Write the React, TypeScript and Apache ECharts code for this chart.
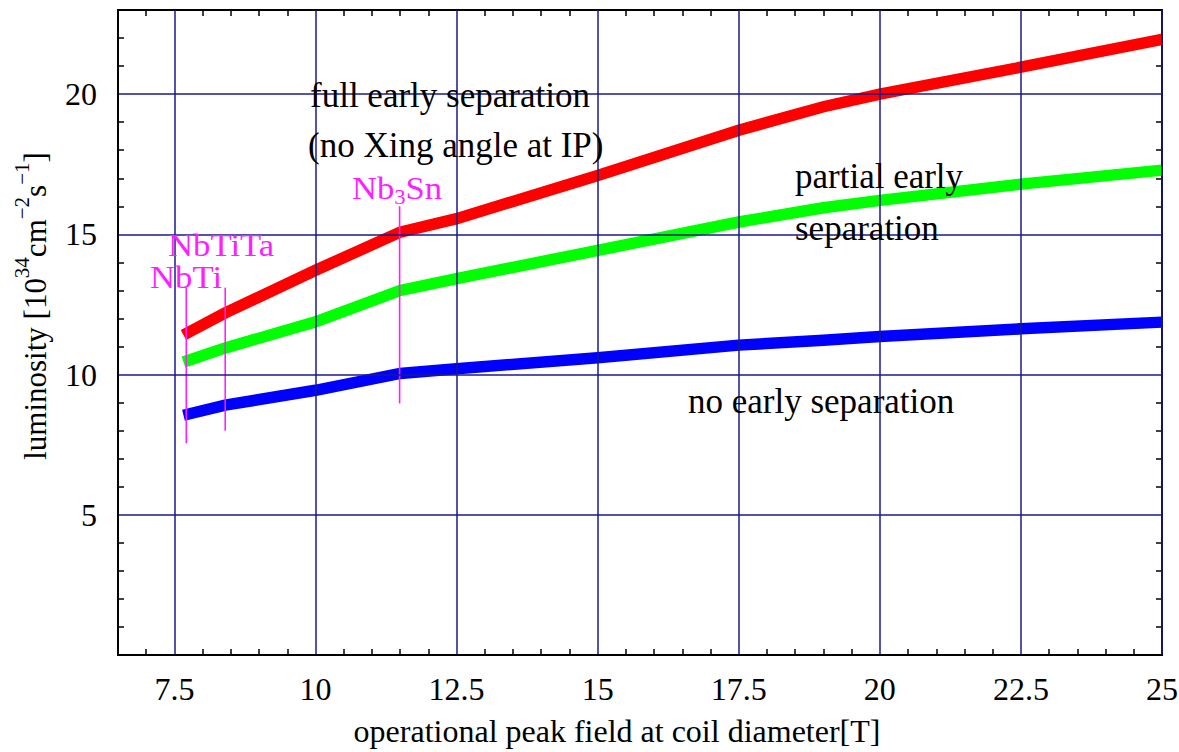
import React, { useEffect, useRef } from 'react';
import * as echarts from 'echarts';

// ---- data ----
const fieldT = [7.66, 8.4, 10, 11.5, 12.5, 15, 17.5, 19, 20, 22.5, 25];
const fullEarlySep = [11.41, 12.2, 13.72, 15.08, 15.56, 17.1, 18.71, 19.55, 20.0, 20.96, 21.95];
const partialEarlySep = [10.45, 10.95, 11.88, 13.0, 13.42, 14.43, 15.44, 15.95, 16.21, 16.79, 17.29];
const noEarlySep = [8.55, 8.91, 9.44, 10.04, 10.21, 10.6, 11.05, 11.22, 11.36, 11.63, 11.87];

const materialNames = ['NbTi', 'NbTiTa', 'Nb3Sn'];
const materialField = [7.71, 8.4, 11.49];
const materialTop = [13.1, 13.1, 16.0];
const materialBottom = [7.55, 8.0, 8.97];

const xMajorTicks = [7.5, 10, 12.5, 15, 17.5, 20, 22.5, 25];
const xMinorTicks = [7, 8, 8.5, 9, 9.5, 10.5, 11, 11.5, 12, 13, 13.5, 14, 14.5, 15.5, 16, 16.5, 17, 18, 18.5, 19, 19.5, 20.5, 21, 21.5, 22, 23, 23.5, 24, 24.5];
const yMajorTicks = [5, 10, 15, 20];
const yMinorTicks = [1, 2, 3, 4, 6, 7, 8, 9, 11, 12, 13, 14, 16, 17, 18, 19, 21, 22];

const X_MIN = 6.5;
const X_MAX = 25;
const Y_MIN = 0;
const Y_MAX = 23;

const FONT = 'Liberation Serif';
const GRID_COLOR = '#1a1a8c';
const MAGENTA = '#ff1eff';

function pairs(xs: number[], ys: number[]) {
  return xs.map((x, i) => [x, ys[i]]);
}

function minorAxis(kind: 'x' | 'y', position: string, ticks: number[]) {
  return {
    type: 'value',
    position,
    min: kind === 'x' ? X_MIN : Y_MIN,
    max: kind === 'x' ? X_MAX : Y_MAX,
    axisLine: { show: true, onZero: false, lineStyle: { color: '#000', width: 2 } },
    axisTick: { show: true, inside: true, length: 6, customValues: ticks, lineStyle: { color: '#000', width: 1.5 } },
    axisLabel: { show: false },
    splitLine: { show: false },
  };
}

function textEl(
  text: string,
  left: number,
  baseline: number,
  size: number,
  color: string,
  opts: { rich?: any; lineHeight?: number; scaleX?: number } = {}
) {
  return {
    type: 'text',
    x: left,
    y: baseline - 0.34 * size,
    scaleX: opts.scaleX ?? 1,
    z: 100,
    style: {
      text,
      fill: color,
      fontSize: size,
      fontFamily: FONT,
      textAlign: 'left',
      align: 'left',
      textVerticalAlign: 'middle',
      verticalAlign: 'middle',
      lineHeight: opts.lineHeight,
      rich: opts.rich,
    },
  };
}

export default function App() {
  const ref = useRef<HTMLDivElement>(null);

  useEffect(() => {
    const chart = echarts.init(ref.current!, null, { renderer: 'svg' });

    const materialSeries = materialNames.map((name, i) => ({
      name,
      type: 'line',
      xAxisIndex: 0,
      yAxisIndex: 0,
      data: [
        [materialField[i], materialBottom[i]],
        [materialField[i], materialTop[i]],
      ],
      showSymbol: false,
      symbol: 'none',
      lineStyle: { color: MAGENTA, width: 1.6 },
      z: 5,
      silent: true,
    }));

    const curve = (name: string, ys: number[], color: string) => ({
      name,
      type: 'line',
      xAxisIndex: 0,
      yAxisIndex: 0,
      data: pairs(fieldT, ys),
      showSymbol: false,
      symbol: 'none',
      lineStyle: { color, width: 11.5, cap: 'butt', join: 'miter' },
      z: 3,
      silent: true,
    });

    const option: any = {
      animation: false,
      backgroundColor: '#fff',
      textStyle: { fontFamily: FONT },
      grid: { left: 118, right: 17, top: 10, bottom: 97, containLabel: false, outerBoundsMode: 'none' },
      xAxis: [
        {
          type: 'value',
          position: 'bottom',
          min: X_MIN,
          max: X_MAX,
          axisLine: { show: true, onZero: false, lineStyle: { color: '#000', width: 2 } },
          axisTick: { show: false, customValues: xMajorTicks },
          axisLabel: {
            customValues: xMajorTicks,
            color: '#000',
            fontFamily: FONT,
            fontSize: 32,
            margin: 18,
            formatter: (v: number) => String(v),
          },
          splitLine: { show: true, lineStyle: { color: GRID_COLOR, width: 1.5 } },
          name: 'operational peak field at coil diameter[T]',
          nameLocation: 'middle',
          nameGap: 60,
          nameTextStyle: { color: '#000', fontFamily: FONT, fontSize: 32, padding: [0, 46, 0, 0] },
          z: 10,
        },
        minorAxis('x', 'bottom', xMinorTicks),
        minorAxis('x', 'top', xMinorTicks),
      ],
      yAxis: [
        {
          type: 'value',
          position: 'left',
          min: Y_MIN,
          max: Y_MAX,
          axisLine: { show: true, onZero: false, lineStyle: { color: '#000', width: 2 } },
          axisTick: { show: false, customValues: yMajorTicks },
          axisLabel: {
            customValues: yMajorTicks,
            color: '#000',
            fontFamily: FONT,
            fontSize: 32,
            margin: 21,
          },
          splitLine: { show: true, lineStyle: { color: GRID_COLOR, width: 1.5 } },
          z: 10,
        },
        minorAxis('y', 'left', yMinorTicks),
        minorAxis('y', 'right', yMinorTicks),
      ],
      series: [
        curve('full early separation', fullEarlySep, '#ff0000'),
        curve('partial early separation', partialEarlySep, '#00ff00'),
        curve('no early separation', noEarlySep, '#0000ff'),
        ...materialSeries,
      ],
      graphic: [
        {
          type: 'text',
          x: 31,
          y: 306,
          rotation: Math.PI / 2,
          z: 100,
          style: {
            text: '{t|luminosity [10}{s|34}{t|cm}{s|\u22122}{t|s}{s|\u22121}{t|]}',
            fill: '#000',
            fontFamily: FONT,
            fontSize: 31,
            textAlign: 'center',
            align: 'center',
            textVerticalAlign: 'middle',
            verticalAlign: 'middle',
            rich: {
              t: { fontFamily: FONT, fontSize: 31, fill: '#000', lineHeight: 40, verticalAlign: 'bottom' },
              s: { fontFamily: FONT, fontSize: 21, fill: '#000', verticalAlign: 'top' },
            },
          },
        },
        textEl('full early separation', 310, 107, 35, '#000'),
        textEl('(no Xing angle at IP)', 308, 157, 35, '#000'),
        textEl('partial early', 795, 188, 35, '#000'),
        textEl('separation', 795, 240, 35, '#000'),
        textEl('no early separation', 688, 413, 35, '#000'),
        textEl('NbTiTa', 168, 256, 31, MAGENTA, { lineHeight: 26, scaleX: 1.12 }),
        textEl('NbTi', 150, 288, 31, MAGENTA, { lineHeight: 26, scaleX: 1.12 }),
        textEl('{a|Nb}{b|3}{a|Sn}', 352, 201, 32, MAGENTA, {
          scaleX: 1.08,
          rich: {
            a: { fontFamily: FONT, fontSize: 32, fill: MAGENTA, verticalAlign: 'top' },
            b: { fontFamily: FONT, fontSize: 21, fill: MAGENTA, verticalAlign: 'bottom' },
          },
          lineHeight: 36,
        }),
      ],
    };

    chart.setOption(option);
    return () => chart.dispose();
  }, []);

  return (
    <div
      ref={ref}
      style={{ position: 'fixed', left: 0, top: 0, width: 1179, height: 752, background: '#fff' }}
    />
  );
}
